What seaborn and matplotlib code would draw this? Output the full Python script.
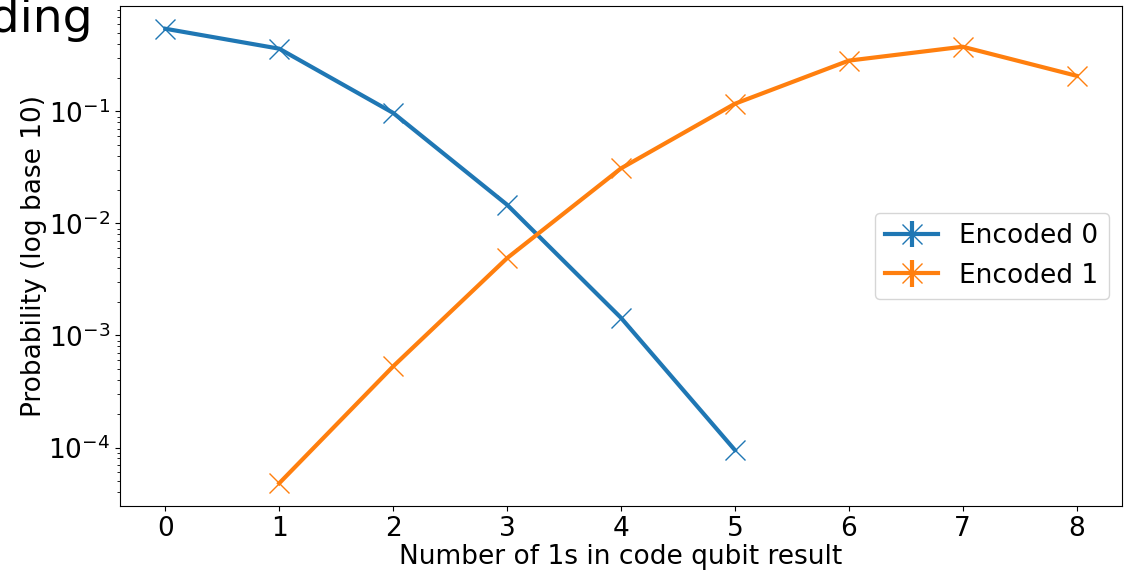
import numpy as np
import pandas as pd
import matplotlib
matplotlib.use("Agg")
import matplotlib.pyplot as plt
import seaborn as sns
from matplotlib.container import ErrorbarContainer
from matplotlib.collections import LineCollection

# Number of 1s measured on the code qubits
ones_enc0 = [0, 1, 2, 3, 4, 5]
ones_enc1 = [1, 2, 3, 4, 5, 6, 7, 8]

# Measured probabilities for each logical input
prob_enc0 = [0.547, 0.363, 0.097, 0.0147, 0.00144, 0.000095]
prob_enc1 = [0.000048, 0.00053, 0.0049, 0.031, 0.117, 0.284, 0.378, 0.208]

series_labels = ["Encoded 0", "Encoded 1"]
series_colors = ["#1f77b4", "#ff7f0e"]

df = pd.concat([
    pd.DataFrame({"ones": ones_enc0, "prob": prob_enc0, "state": series_labels[0]}),
    pd.DataFrame({"ones": ones_enc1, "prob": prob_enc1, "state": series_labels[1]}),
], ignore_index=True)

fig = plt.figure(figsize=(11.3, 5.73), dpi=100)
ax = fig.add_axes([0.106, 0.117, 0.887, 0.8725])

sns.lineplot(data=df, x="ones", y="prob", hue="state", palette=series_colors,
             marker="x", markersize=14, markeredgewidth=1.0, linewidth=3,
             legend=False, ax=ax)

ax.set_yscale("log")

handles = []
for line, color, label in zip(ax.get_lines(), series_colors, series_labels):
    line.set_markeredgecolor(color)
    line.set_markerfacecolor(color)
    bars = LineCollection([], colors=color, linewidths=3)
    handles.append(ErrorbarContainer((line, (), [bars]), has_xerr=False,
                                     has_yerr=True, label=label))

ax.legend(handles=handles, labels=series_labels, loc="center right", fontsize=19)

ax.set_xticks(range(0, 9))
ax.tick_params(axis="both", labelsize=19)
ax.set_xlabel("Number of 1s in code qubit result", fontsize=19, labelpad=2)
ax.set_ylabel("Probability (log base 10)", fontsize=19, labelpad=1)

# Slide heading behind the chart, running off the left edge
fig.text(93 / 1130, 1 - 32 / 573, "Encoding", ha="right", va="baseline",
         fontsize=34, family="DejaVu Sans")

fig.savefig("out.png", dpi=100)
